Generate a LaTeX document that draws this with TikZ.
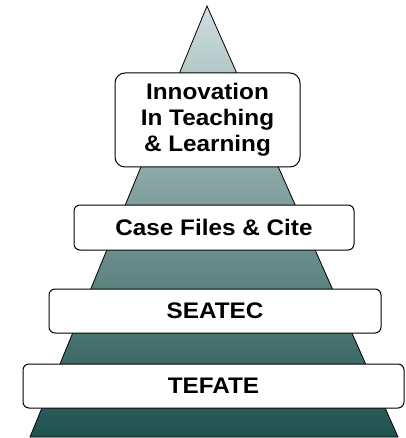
\documentclass[tikz,border=0pt]{standalone}
\usepackage{fontspec}
\setmainfont{Liberation Sans}[FakeStretch=1.08]
\definecolor{pyrtop}{HTML}{CFDDDD}
\definecolor{pyrmid}{HTML}{76A3A1}
\definecolor{pyrbot}{HTML}{1F524F}
\begin{document}
\begin{tikzpicture}[x=1pt,y=-1pt,
				tier/.style={rectangle,draw,fill=white,line width=1pt,rounded corners=6pt,
					font=\fontsize{22.5}{26}\selectfont\bfseries,inner sep=0pt,align=center}]
\useasboundingbox (0,0) rectangle (405,438);
\shade[top color=pyrtop, middle color=pyrmid, bottom color=pyrbot, draw=black, line width=0.8pt]
	(207,6) -- (398,437) -- (30,437) -- cycle;
\node[tier, rounded corners=10pt, minimum width=185pt, minimum height=94pt] (innov) at (207.5,120)
	{Innovation\\In Teaching\\\& Learning};
\node[tier, minimum width=280pt, minimum height=45pt] (cases) at (214,227.5) {Case Files \& Cite};
\node[tier, minimum width=332pt, minimum height=44pt] (seatec) at (215,311) {SEATEC};
\node[tier, minimum width=381pt, minimum height=44pt] (tefate) at (213.5,386) {TEFATE};
\end{tikzpicture}
\end{document}
